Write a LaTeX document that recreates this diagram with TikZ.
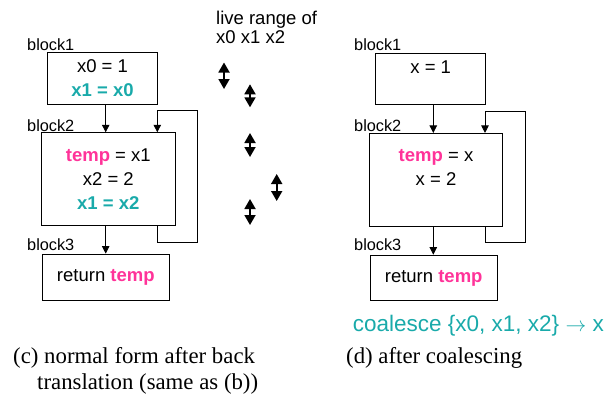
\documentclass[tikz,border=0pt]{standalone}
\usepackage{fontspec}
\setmainfont{Liberation Serif}
\setsansfont{Liberation Sans}
\usepackage{xcolor}
\usetikzlibrary{arrows.meta}

\definecolor{coaltxt}{HTML}{19AAAA}
\definecolor{tmptxt}{HTML}{FF3399}

% coloured pieces of code
\newcommand{\tmpvar}{\textcolor{tmptxt}{\textbf{temp}}}
\newcommand{\copystmt}[1]{\textcolor{coaltxt}{\textbf{#1}}}

\begin{document}
\begin{tikzpicture}[x=1pt, y=-1pt,
    blk/.style={draw, line width=0.8pt, align=center, inner sep=0pt,
        font=\sffamily\fontsize{18.5}{24}\selectfont},
    blklabel/.style={anchor=west, inner sep=0pt, font=\sffamily\fontsize{16.3}{20}\selectfont},
    flow/.style={-{Triangle[length=7.5pt,width=7.5pt]}, line width=0.8pt},
    live/.style={{Triangle[length=10pt,width=11pt]}-{Triangle[length=10pt,width=11pt]},
        line width=1.8pt},
    captxt/.style={anchor=base west, inner sep=0pt, font=\fontsize{22.8}{26}\selectfont}]

    \useasboundingbox (0,0) rectangle (611,399);

    % (c) normal form
    \node[blk, minimum width=109.6pt, minimum height=52pt] (c1) at (102.5,78.3)
        {x0 = 1\\ \copystmt{x1 = x0}};
    \node[blk, minimum width=133.3pt, minimum height=92.3pt] (c2) at (108.3,178.8)
        {\tmpvar{} = x1\\ x2 = 2\\ \copystmt{x1 = x2}};
    \node[blk, minimum width=127pt, minimum height=46pt] (c3) at (105.8,277)
        {return \tmpvar};

    \node[blklabel] (c1lab) at (27,45) {block1};
    \node[blklabel] (c2lab) at (27,126) {block2};
    \node[blklabel] (c3lab) at (27,245) {block3};

    \coordinate (cx) at (105.7,0);
    \coordinate (cla) at (157.3,242);
    \coordinate (clb) at (197.3,110.7);
    \draw[flow] (c1.south -| cx) -- (c2.north -| cx);
    \draw[flow] (c2.south -| cx) -- (c3.north -| cx);
    \draw[flow] (c2.south -| cla) -- (cla) -| (clb) -| (c2.north -| cla);

    % live ranges
    \node[anchor=base west, inner sep=0pt,
        font=\sffamily\fontsize{18.5}{19}\selectfont] (livetxt) at (216,24)
        {live range of};
    \node[anchor=base west, inner sep=0pt,
        font=\sffamily\fontsize{18.5}{19}\selectfont] (liveval) at (216,43)
        {x0 x1 x2};
    \foreach \x/\ya/\yb in {224/62.5/89, 250/84.3/107.3, 250/133/157,
                            276.7/174/201, 250/199/225}
        \draw[live] (\x,\ya) -- (\x,\yb);

    % (d) after coalescing
    \node[blk, minimum width=110pt, minimum height=51.4pt] (d1) at (430.7,79)
        {x = 1\\ \mbox{}};
    \node[blk, minimum width=133.4pt, minimum height=92.7pt] (d2) at (436,179.7)
        {\tmpvar{} = x\\ x = 2\\ \mbox{}};
    \node[blk, minimum width=127.3pt, minimum height=45.7pt] (d3) at (433.7,277.9)
        {return \tmpvar};

    \node[blklabel] (d1lab) at (354,45) {block1};
    \node[blklabel] (d2lab) at (354,126) {block2};
    \node[blklabel] (d3lab) at (354,245) {block3};

    \coordinate (dx) at (433.3,0);
    \coordinate (dla) at (485,242.3);
    \coordinate (dlb) at (525,111);
    \draw[flow] (d1.south -| dx) -- (d2.north -| dx);
    \draw[flow] (d2.south -| dx) -- (d3.north -| dx);
    \draw[flow] (d2.south -| dla) -- (dla) -| (dlb) -| (d2.north -| dla);

    \node[anchor=base west, inner sep=0pt, text=coaltxt,
        font=\sffamily\fontsize{22.5}{26}\selectfont] (coal) at (352.7,331.5)
        {coalesce \{x0, x1, x2\} $\rightarrow$ x};

    % captions
    \node[captxt] (capc) at (13,363) {(c) normal form after back};
    \node[captxt] (capc2) at (37,389) {translation (same as (b))};
    \node[captxt] (capd) at (346,363) {(d) after coalescing};
\end{tikzpicture}
\end{document}
